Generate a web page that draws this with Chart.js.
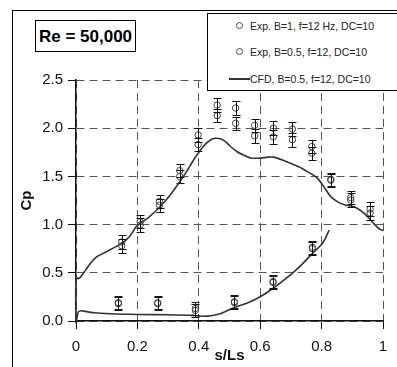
<!DOCTYPE html>
<html>
<head>
<meta charset="utf-8">
<script src="https://cdn.jsdelivr.net/npm/chart.js@4.4.0/dist/chart.umd.min.js"></script>
<style>
body { margin: 0; background: #fff; }
#wrap { position: relative; width: 397px; height: 367px; overflow: hidden; font-family: 'Liberation Sans', Arial, sans-serif; }
#wrap canvas { position: absolute; left: 0; top: 0; }
#frame { position: absolute; left: 12px; top: 10px; width: 420px; height: 420px; border-left: 1px solid #000; border-top: 1px solid #000; }
#re { position: absolute; left: 35px; top: 20px; width: 99px; height: 30px; border: 1px solid #000; background: #fff;
      font-weight: bold; font-size: 17px; line-height: 31px; text-align: center; color: #000; }
#legend { position: absolute; left: 207px; top: 13px; width: 220px; height: 76px; border: 1px solid #000; background: #fff;
          font-size: 10.5px; color: #222; }
.row { position: absolute; left: 0; height: 14px; line-height: 14px; width: 220px; }
.dot { position: absolute; left: 28px; top: 3px; width: 5px; height: 5px; border: 1px solid #444; border-radius: 50%; }
.seg { position: absolute; left: 21px; top: 6px; width: 21px; height: 0; border-top: 2px solid #333; }
.txt { position: absolute; left: 42px; top: 0; white-space: nowrap; }
</style>
</head>
<body>
<div id="wrap">
  <div id="frame"></div>
  <canvas id="cp-chart" width="397" height="367"></canvas>
  <div id="re">Re = 50,000</div>
  <div id="legend">
    <div class="row" style="top:5px"><span class="dot"></span><span class="txt">Exp. B=1, f=12 Hz, DC=10</span></div>
    <div class="row" style="top:31px"><span class="dot"></span><span class="txt">Exp, B=0.5, f=12, DC=10</span></div>
    <div class="row" style="top:58px"><span class="seg"></span><span class="txt">CFD, B=0.5, f=12, DC=10</span></div>
  </div>
</div>
<script>
const xTickLabels = ['0', '0.2', '0.4', '0.6', '0.8', '1'];
const yTickLabels = ['0.0', '0.5', '1.0', '1.5', '2.0', '2.5'];

// experiment, upper surface
const expUpperX = [0.149, 0.209, 0.272, 0.338, 0.398, 0.46, 0.52, 0.582, 0.643, 0.705, 0.768, 0.83, 0.895, 0.958];
const expB1Upper = [0.82, 1.03, 1.24, 1.56, 1.93, 2.24, 2.21, 2.03, 2.00, 1.99, 1.81, 1.47, 1.28, 1.16];
const expB05Upper = [0.78, 0.995, 1.20, 1.50, 1.83, 2.13, 2.05, 1.92, 1.91, 1.88, 1.74, 1.46, 1.255, 1.12];
// experiment, lower surface
const expLowerX = [0.138, 0.266, 0.389, 0.516, 0.642, 0.77];
const expB1Lower = [0.19, 0.19, 0.13, 0.20, 0.41, 0.765];
const expB05Lower = [0.18, 0.18, 0.11, 0.19, 0.40, 0.75];
const errorBar = 0.07;

// CFD, lower surface from trailing edge to leading edge
const cfdLowerX = [0.825, 0.803, 0.77, 0.74, 0.71, 0.675, 0.642, 0.60, 0.56, 0.515, 0.47, 0.44, 0.41, 0.38, 0.30, 0.20, 0.111, 0.057, 0.03, 0.019, 0.008, 0.003, 0.0];
const cfdLowerY = [0.944, 0.806, 0.70, 0.60, 0.51, 0.42, 0.34, 0.252, 0.19, 0.14, 0.075, 0.055, 0.05, 0.058, 0.065, 0.068, 0.075, 0.086, 0.10, 0.107, 0.097, 0.03, -0.02];
// CFD, upper surface from leading edge to trailing edge
const cfdUpperX = [0.0, 0.005, 0.013, 0.024, 0.045, 0.068, 0.1, 0.149, 0.175, 0.198, 0.235, 0.272, 0.305, 0.338, 0.36, 0.383, 0.398, 0.42, 0.438, 0.454, 0.47, 0.487, 0.503, 0.525, 0.547, 0.569, 0.601, 0.625, 0.645, 0.68, 0.71, 0.735, 0.754, 0.787, 0.81, 0.83, 0.855, 0.879, 0.906, 0.939, 0.97, 0.99, 1.0];
const cfdUpperY = [0.46, 0.44, 0.45, 0.495, 0.59, 0.667, 0.72, 0.806, 0.88, 0.985, 1.07, 1.18, 1.30, 1.445, 1.55, 1.67, 1.74, 1.83, 1.878, 1.895, 1.89, 1.86, 1.81, 1.756, 1.72, 1.69, 1.69, 1.70, 1.70, 1.66, 1.62, 1.585, 1.55, 1.48, 1.38, 1.29, 1.23, 1.20, 1.186, 1.117, 1.01, 0.95, 0.94];

const pts = (xs, ys) => xs.map((x, i) => ({x: x, y: ys[i]}));

const errorBars = {
    id: 'errorBars',
    afterDatasetsDraw(chart) {
        const ctx = chart.ctx, xs = chart.scales.x, ys = chart.scales.y;
        ctx.save();
        ctx.strokeStyle = '#111';
        ctx.lineWidth = 1;
        chart.data.datasets.forEach(ds => {
            if (!ds.errorBar) return;
            ds.data.forEach(p => {
                const px = Math.round(xs.getPixelForValue(p.x)) + 0.5;
                const top = Math.round(ys.getPixelForValue(p.y + ds.errorBar)) + 0.5;
                const bot = Math.round(ys.getPixelForValue(p.y - ds.errorBar)) + 0.5;
                ctx.beginPath();
                ctx.moveTo(px, top); ctx.lineTo(px, bot);
                ctx.moveTo(px - 4, top); ctx.lineTo(px + 4, top);
                ctx.moveTo(px - 4, bot); ctx.lineTo(px + 4, bot);
                ctx.stroke();
            });
        });
        ctx.restore();
    }
};

Chart.defaults.font.family = "'Liberation Sans', Arial, sans-serif";

const CpCanvas = document.getElementById('cp-chart');
const CpChart = new Chart(CpCanvas, {
    type: 'scatter',
    data: {
        datasets: [{
            label: 'Exp. B=1, f=12 Hz, DC=10',
            data: pts(expUpperX, expB1Upper).concat(pts(expLowerX, expB1Lower)),
            errorBar: errorBar,
            pointStyle: 'circle',
            pointRadius: 3.2,
            borderColor: '#444',
            backgroundColor: 'rgba(0,0,0,0)',
            borderWidth: 1,
        }, {
            label: 'Exp, B=0.5, f=12, DC=10',
            data: pts(expUpperX, expB05Upper).concat(pts(expLowerX, expB05Lower)),
            errorBar: errorBar,
            pointStyle: 'circle',
            pointRadius: 3.2,
            borderColor: '#444',
            backgroundColor: 'rgba(0,0,0,0)',
            borderWidth: 1,
        }, {
            label: 'CFD, B=0.5, f=12, DC=10',
            data: pts(cfdLowerX, cfdLowerY).concat(pts(cfdUpperX, cfdUpperY)),
            showLine: true,
            pointRadius: 0,
            borderColor: '#333',
            borderWidth: 1.6,
            tension: 0.25,
            clip: 4,
        }]
    },
    options: {
        responsive: false,
        animation: false,
        events: [],
        layout: { padding: { top: 80, right: 14, left: 0, bottom: 0 } },
        plugins: { legend: { display: false }, tooltip: { enabled: false } },
        scales: {
            x: {
                type: 'linear',
                min: 0,
                max: 1,
                afterFit: s => { s.height = 46; },
                ticks: {
                    stepSize: 0.2,
                    autoSkip: false,
                    maxRotation: 0,
                    padding: 9,
                    color: '#111',
                    font: { size: 15 },
                    callback: (v, i) => xTickLabels[i]
                },
                grid: { color: '#555', lineWidth: 1, tickLength: 8, tickColor: '#111' },
                border: { color: '#111', width: 1.5, dash: [8, 5] },
                title: { display: true, text: 's/Ls', color: '#111', font: { size: 15, weight: 'bold' }, padding: { top: 0, bottom: 2 } }
            },
            y: {
                type: 'linear',
                min: 0,
                max: 2.5,
                afterFit: s => { s.width = 76; },
                ticks: {
                    stepSize: 0.5,
                    padding: 5,
                    color: '#111',
                    font: { size: 15 },
                    callback: (v, i) => yTickLabels[i]
                },
                grid: { color: '#555', lineWidth: 1, tickLength: 8, tickColor: '#111' },
                border: { color: '#111', width: 1.5, dash: [8, 5] },
                title: { display: true, text: 'Cp', color: '#111', font: { size: 15, weight: 'bold' }, padding: { top: 18, bottom: 0 } }
            }
        }
    },
    plugins: [errorBars]
});
</script>
</body>
</html>
